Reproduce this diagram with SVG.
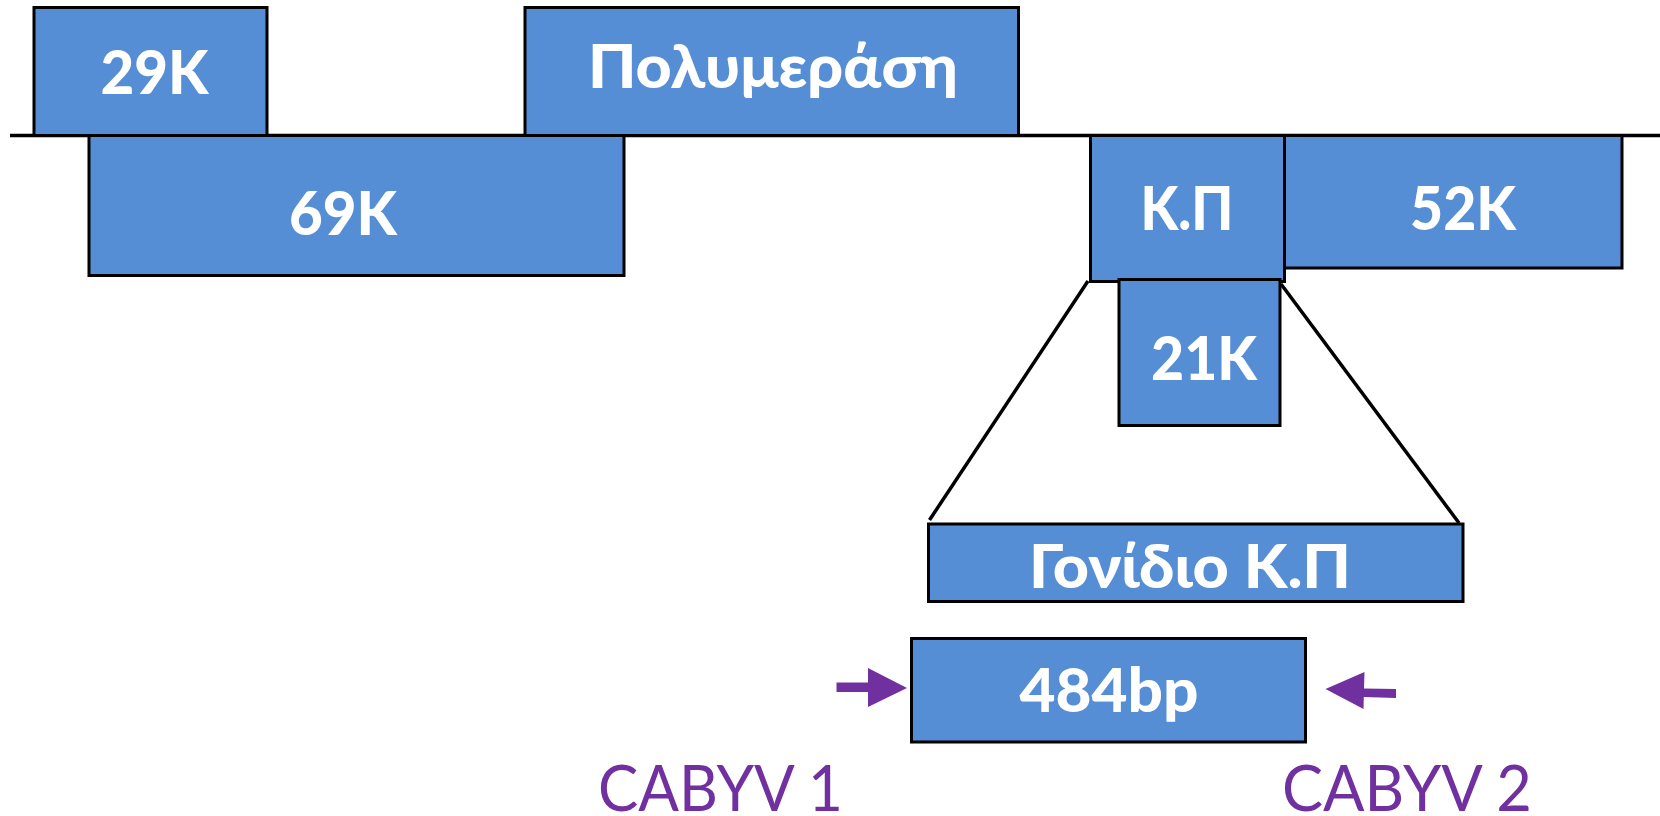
<svg xmlns="http://www.w3.org/2000/svg" width="1660" height="816" viewBox="0 0 1660 816">
<style>
.box{fill:#558ED5;stroke:#000;stroke-width:3}
.lbl{font-family:Lato,"Noto Sans",sans-serif;font-weight:900;fill:#fff;font-size:61px;text-anchor:middle}
.pur{font-family:Lato,"Noto Sans",sans-serif;fill:#7030A0;font-size:63px}
.ln{stroke:#000;stroke-width:3.5;fill:none}
</style>
<rect width="1660" height="816" fill="#fff"/>
<g id="connectors">
<line class="ln" x1="10" y1="135.5" x2="1660" y2="135.5"/>
<line class="ln" x1="1088" y1="281" x2="929.5" y2="520"/>
<line class="ln" x1="1281" y1="284" x2="1459" y2="523"/>
</g>
<g id="n29k"><rect class="box" x="34" y="7.5" width="233" height="128"/><text class="lbl" x="154.5" y="94" textLength="108" lengthAdjust="spacingAndGlyphs">29K</text></g>
<g id="npol"><rect class="box" x="525" y="7.5" width="493.5" height="128"/><text class="lbl" x="773" y="88" textLength="370" lengthAdjust="spacingAndGlyphs">Πολυμεράση</text></g>
<g id="n69k"><rect class="box" x="89" y="135.5" width="535" height="140"/><text class="lbl" x="343" y="235" textLength="108" lengthAdjust="spacingAndGlyphs">69K</text></g>
<g id="nkp"><rect class="box" x="1090.5" y="135.5" width="194" height="146"/><text class="lbl" x="1187" y="230" textLength="93" lengthAdjust="spacingAndGlyphs">Κ.Π</text></g>
<g id="n52k"><rect class="box" x="1284.5" y="135.5" width="337.5" height="132.5"/><text class="lbl" x="1463" y="230" textLength="106" lengthAdjust="spacingAndGlyphs">52K</text></g>
<g id="n21k"><rect class="box" x="1119" y="279.5" width="161" height="146"/><text class="lbl" x="1204" y="380" textLength="106" lengthAdjust="spacingAndGlyphs">21K</text></g>
<g id="ngene"><rect class="box" x="928.5" y="524" width="534.5" height="77.5"/><text class="lbl" x="1190" y="588" textLength="322" lengthAdjust="spacingAndGlyphs">Γονίδιο Κ.Π</text></g>
<g id="n484"><rect class="box" x="911.5" y="638.5" width="394" height="103.5"/><text class="lbl" x="1109" y="711.5" textLength="179" lengthAdjust="spacingAndGlyphs">484bp</text></g>
<g id="arrows">
<path d="M836.5 682.5 H868 V668 L907 688 L868 707 V692 H836.5 Z" fill="#7030A0"/>
<path d="M1396 689 L1364 688.5 L1364.5 672 L1325.5 689 L1363.5 709 L1363.8 697 L1396 698 Z" fill="#7030A0"/>
</g>
<g id="cabyv1"><text class="pur" x="598" y="811" textLength="245" lengthAdjust="spacingAndGlyphs">CABYV 1</text></g>
<g id="cabyv2"><text class="pur" x="1282" y="811" textLength="250" lengthAdjust="spacingAndGlyphs">CABYV 2</text></g>
</svg>
